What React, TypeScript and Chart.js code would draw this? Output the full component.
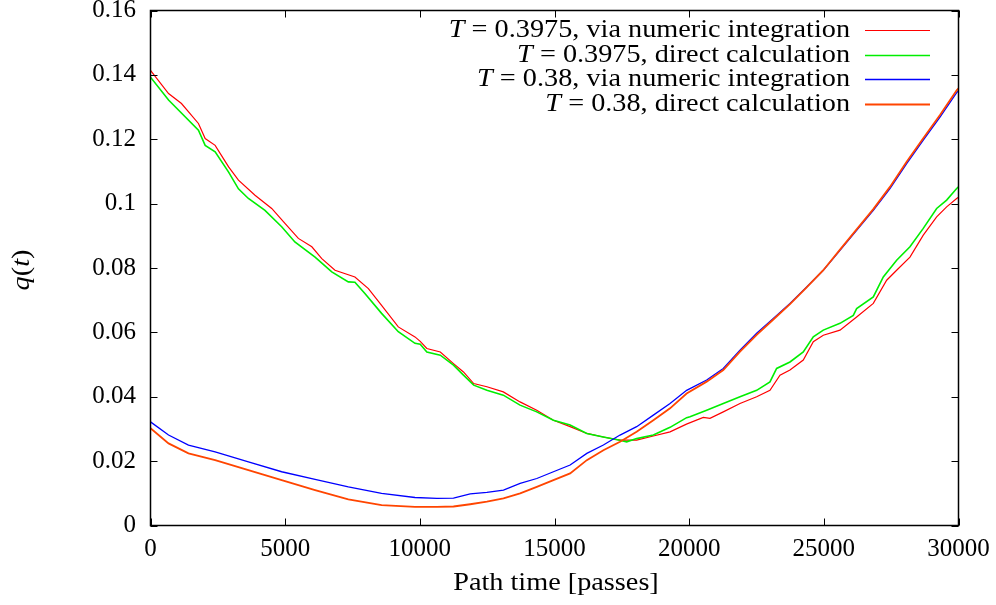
import React, { useEffect, useRef } from "react";
import { Chart, registerables } from "chart.js";

Chart.register(...registerables);

// ---- data ----
const tRed = [0, 670, 1150, 1780, 2030, 2400, 2900, 3265, 3880, 4500, 5000, 5490, 5990, 6360, 6850, 7590, 8090, 8580, 9200, 9820, 10015, 10260, 10760, 11250, 11620, 12000, 12490, 13100, 13720, 14340, 14960, 15580, 16200, 16810, 17430, 18050, 18670, 19290, 19900, 20525, 20772, 21267, 21887, 22506, 23000, 23372, 23743, 24237, 24609, 24980, 25600, 26218, 26837, 27333, 27703, 28198, 28692, 29189, 29560, 29932, 30000];
const qRed = [0.1414, 0.1342, 0.1311, 0.1249, 0.1202, 0.1181, 0.1114, 0.1073, 0.1026, 0.0985, 0.0938, 0.0892, 0.0866, 0.0829, 0.0793, 0.0772, 0.0736, 0.0684, 0.0617, 0.0586, 0.0572, 0.055, 0.0539, 0.0503, 0.0477, 0.0441, 0.0431, 0.0415, 0.0384, 0.0358, 0.0327, 0.0307, 0.0286, 0.0275, 0.0265, 0.0265, 0.0278, 0.0291, 0.0315, 0.0336, 0.0333, 0.0353, 0.0379, 0.04, 0.042, 0.0467, 0.0483, 0.0514, 0.0571, 0.0591, 0.0607, 0.0648, 0.069, 0.0762, 0.0793, 0.0834, 0.0902, 0.0959, 0.099, 0.1016, 0.102];

const tGreen = [0, 670, 1780, 2030, 2400, 2900, 3265, 3635, 4250, 4870, 5360, 6110, 6730, 7345, 7590, 7960, 8580, 9200, 9820, 10015, 10260, 10760, 11250, 11620, 12000, 12490, 13100, 13720, 14340, 14960, 15580, 16200, 16810, 17430, 17680, 18050, 18670, 19290, 19906, 20030, 20650, 21267, 21887, 22506, 23000, 23248, 23743, 24237, 24609, 24980, 25600, 26094, 26218, 26837, 27208, 27703, 28198, 28692, 29189, 29560, 29932, 30000];
const qGreen = [0.1393, 0.1322, 0.1228, 0.1181, 0.1161, 0.1098, 0.1046, 0.1016, 0.0979, 0.0928, 0.0881, 0.0834, 0.0788, 0.0757, 0.0756, 0.0721, 0.0659, 0.0602, 0.0566, 0.0563, 0.0539, 0.0529, 0.0498, 0.0467, 0.0436, 0.042, 0.0405, 0.0374, 0.0353, 0.0327, 0.0312, 0.0286, 0.0275, 0.0265, 0.026, 0.027, 0.0281, 0.0305, 0.0335, 0.0338, 0.0358, 0.0379, 0.04, 0.042, 0.0446, 0.0488, 0.0508, 0.0539, 0.0586, 0.0607, 0.0628, 0.0653, 0.0674, 0.071, 0.0772, 0.0824, 0.0866, 0.0923, 0.0985, 0.1011, 0.1047, 0.1052];

const tLow = [0, 670, 1410, 2400, 3635, 4870, 6110, 7345, 8580, 9820, 10634, 11250, 11870, 12490, 13105, 13724, 14343, 14960, 15580, 16200, 16815, 17433, 18050, 18670, 19290, 19906, 20650, 21267, 21887, 22506, 23124, 23743, 24362, 24980, 25600, 26218, 26837, 27455, 28075, 28692, 29313, 29932, 30000];
const qBlue = [0.0322, 0.0281, 0.025, 0.0229, 0.0198, 0.0167, 0.0143, 0.012, 0.01, 0.0087, 0.0084, 0.0085, 0.0098, 0.0103, 0.011, 0.0131, 0.0146, 0.0167, 0.0188, 0.0224, 0.025, 0.0281, 0.0307, 0.0343, 0.0379, 0.042, 0.0452, 0.0488, 0.0545, 0.0597, 0.0643, 0.069, 0.0741, 0.0793, 0.0855, 0.0917, 0.0979, 0.1047, 0.1124, 0.1197, 0.1269, 0.1345, 0.135];
const qOrange = [0.0302, 0.0255, 0.0224, 0.0203, 0.0172, 0.0141, 0.011, 0.0081, 0.0063, 0.0058, 0.0058, 0.0059, 0.0066, 0.0074, 0.0084, 0.01, 0.012, 0.0141, 0.0162, 0.0203, 0.0234, 0.026, 0.0291, 0.0327, 0.0364, 0.041, 0.0447, 0.0483, 0.054, 0.0592, 0.064, 0.0688, 0.074, 0.0793, 0.0857, 0.092, 0.0983, 0.1052, 0.113, 0.1203, 0.1275, 0.1352, 0.1358];

const seriesLabels = [
  ["T", " = 0.3975, via numeric integration"],
  ["T", " = 0.3975, direct calculation"],
  ["T", " = 0.38, via numeric integration"],
  ["T", " = 0.38, direct calculation"],
];
const seriesColors = ["#ff0000", "#00ee00", "#0000ff", "#ff4500"];
const seriesWidths = [1.2, 1.6, 1.3, 1.8];

const xTicks = [0, 5000, 10000, 15000, 20000, 25000, 30000];
const yTicks = [0, 0.02, 0.04, 0.06, 0.08, 0.1, 0.12, 0.14, 0.16];
const xTitle = "Path time [passes]";

const FONT = "'Liberation Serif', 'Times New Roman', serif";
const SX = 1.13;

function zip(t: number[], q: number[]) {
  return t.map((x, i) => ({ x, y: q[i] }));
}

function drawRich(ctx: CanvasRenderingContext2D, parts: { s: string; it?: boolean }[], x: number, y: number, align: "right" | "center", size: number) {
  let total = 0;
  const widths = parts.map((p) => {
    ctx.font = `${p.it ? "italic " : ""}${size}px ${FONT}`;
    const w = ctx.measureText(p.s).width;
    total += w;
    return w;
  });
  ctx.save();
  ctx.translate(x, y);
  ctx.scale(SX, 1);
  let cx = align === "right" ? -total : -total / 2;
  ctx.textAlign = "left";
  ctx.textBaseline = "alphabetic";
  parts.forEach((p, i) => {
    ctx.font = `${p.it ? "italic " : ""}${size}px ${FONT}`;
    ctx.fillText(p.s, cx, 0);
    cx += widths[i];
  });
  ctx.restore();
}

const framePlugin = {
  id: "frame",
  afterDatasetsDraw(chart: any) {
    const { ctx, chartArea: a, scales } = chart;
    ctx.save();
    ctx.strokeStyle = "#000";
    ctx.lineWidth = 1;
    const L = 7;
    ctx.beginPath();
    for (const v of yTicks) {
      const y = Math.round(scales.y.getPixelForValue(v)) + 0.5;
      ctx.moveTo(a.left, y); ctx.lineTo(a.left + L, y);
      ctx.moveTo(a.right, y); ctx.lineTo(a.right - L, y);
    }
    for (const v of xTicks) {
      const x = Math.round(scales.x.getPixelForValue(v)) + 0.5;
      ctx.moveTo(x, a.bottom); ctx.lineTo(x, a.bottom - L);
      ctx.moveTo(x, a.top); ctx.lineTo(x, a.top + L);
    }
    ctx.stroke();
    ctx.lineWidth = 1.5;
    ctx.strokeRect(a.left, a.top, a.right - a.left, a.bottom - a.top);

    // legend
    ctx.fillStyle = "#000";
    seriesLabels.forEach((lab, i) => {
      const ly = 30 + i * 24.7;
      drawRich(ctx, [{ s: lab[0], it: true }, { s: lab[1] }], 850, ly + 7, "right", 25);
      ctx.strokeStyle = seriesColors[i];
      ctx.lineWidth = seriesWidths[i];
      ctx.beginPath();
      ctx.moveTo(865, Math.round(ly) + 0.5);
      ctx.lineTo(930, Math.round(ly) + 0.5);
      ctx.stroke();
    });

    // axis titles
    ctx.fillStyle = "#000";
    drawRich(ctx, [{ s: xTitle }], 556, 590, "center", 25);
    ctx.save();
    ctx.translate(29, 270);
    ctx.rotate(-Math.PI / 2);
    drawRich(ctx, [{ s: "q", it: true }, { s: "(" }, { s: "t", it: true }, { s: ")" }], 0, 0, "center", 25);
    ctx.restore();
    ctx.restore();
  },
};

export default function App() {
  const ref = useRef<HTMLCanvasElement>(null);
  useEffect(() => {
    const canvas = ref.current!;
    const datasets = [
      { data: zip(tRed, qRed) },
      { data: zip(tGreen, qGreen) },
      { data: zip(tLow, qBlue) },
      { data: zip(tLow, qOrange) },
    ].map((d, i) => ({
      label: seriesLabels[i].join(""),
      data: d.data,
      borderColor: seriesColors[i],
      backgroundColor: seriesColors[i],
      borderWidth: seriesWidths[i],
      pointRadius: 0,
      tension: 0,
      fill: false,
      order: 4 - i,
    }));
    const chart = new Chart(canvas, {
      type: "line",
      data: { datasets },
      options: {
        animation: false,
        responsive: false,
        devicePixelRatio: 1,
        layout: { padding: { left: 0, right: 37.5, top: 10.5, bottom: 0 } },
        plugins: { legend: { display: false }, tooltip: { enabled: false } },
        scales: {
          x: {
            type: "linear",
            min: 0,
            max: 30000,
            border: { display: false },
            grid: { display: false, drawTicks: false, tickLength: 0 },
            afterBuildTicks: (s: any) => { s.ticks = xTicks.map((v) => ({ value: v })); },
            afterFit: (s: any) => { s.height = 79.5; s.paddingLeft = 0; s.paddingRight = 0; },
            ticks: {
              padding: 9,
              color: "#000",
              font: { family: FONT, size: 25 },
              maxRotation: 0,
              autoSkip: false,
              callback: (v: any) => String(v),
            },
          },
          y: {
            type: "linear",
            min: 0,
            max: 0.16,
            border: { display: false },
            grid: { display: false, drawTicks: false, tickLength: 0 },
            afterBuildTicks: (s: any) => { s.ticks = yTicks.map((v) => ({ value: v })); },
            afterFit: (s: any) => { s.width = 150.5; s.paddingTop = 0; s.paddingBottom = 0; },
            ticks: {
              padding: 14.5,
              color: "#000",
              font: { family: FONT, size: 25 },
              autoSkip: false,
              callback: (v: any) => String(Number(Number(v).toFixed(4))),
            },
          },
        },
      },
      plugins: [framePlugin],
    });
    return () => chart.destroy();
  }, []);
  return (
    <div style={{ position: "absolute", left: 0, top: 0, width: 996, height: 605, background: "#fff" }}>
      <canvas ref={ref} width={996} height={605} style={{ width: 996, height: 605, display: "block" }} />
    </div>
  );
}
